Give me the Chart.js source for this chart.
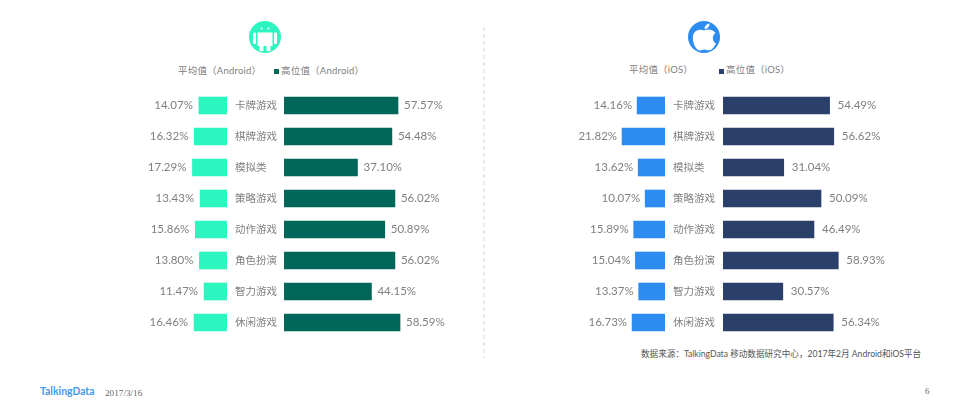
<!DOCTYPE html>
<html>
<head>
<meta charset="utf-8">
<script src="https://cdn.jsdelivr.net/npm/chart.js@4/dist/chart.umd.min.js"></script>
<style>
body { margin: 0; background: #fff; width: 968px; height: 415px; position: relative; overflow: hidden;
  font-family: Lato, "Noto Sans CJK SC", sans-serif; }
canvas { display: block; }
.box { position: absolute; }
.txt { position: absolute; white-space: nowrap; line-height: 12px; }
.legend { font-size: 9.5px; color: #808080; letter-spacing: .2px; }
.swatch { position: absolute; width: 5px; height: 5px; }
</style>
</head>
<body>
<div class="box" style="left:100px;top:90px;width:127px;height:248px"><canvas id="androidAvg"></canvas></div>
<div class="box" style="left:235px;top:90px;width:229px;height:248px"><canvas id="androidTop"></canvas></div>
<div class="box" style="left:540px;top:90px;width:125px;height:248px"><canvas id="iosAvg"></canvas></div>
<div class="box" style="left:673px;top:90px;width:230px;height:248px"><canvas id="iosTop"></canvas></div>

<svg class="box" style="left:249px;top:21px" width="32" height="32" viewBox="0 0 32 32">
  <circle cx="16" cy="16" r="16" fill="#2cf5bf"/>
  <circle cx="12.6" cy="7.4" r="1" fill="#fff"/><circle cx="19.4" cy="7.4" r="1" fill="#fff"/>
  <rect x="8.5" y="11.5" width="15" height="13.5" fill="#fff"/>
  <rect x="4" y="11.5" width="3" height="11.5" rx="1" fill="#fff"/>
  <rect x="25" y="11.5" width="3" height="11.5" rx="1" fill="#fff"/>
  <rect x="10.5" y="24" width="4" height="6" fill="#fff"/>
  <rect x="17.5" y="24" width="4" height="6" fill="#fff"/>
</svg>
<svg class="box" style="left:688px;top:21px" width="32" height="32" viewBox="0 0 32 32">
  <circle cx="16" cy="16" r="16" fill="#2d8cf0"/>
  <path d="M16 9.5 C13 7.8 6.5 8.5 5 14.5 C3.8 20 7.5 29 11.5 29.5 C13.5 29.7 14.5 28.5 16.5 28.5 C18.5 28.5 19.5 29.7 21.5 29.3 C24.5 28.7 27 24.5 28 22.5 C24.5 21 23.5 14.5 27.5 12 C25 8.5 19.5 7.8 16 9.5 Z" fill="#fff"/>
  <path d="M16.5 8 C16.5 5 19 3 21.5 2.6 C21.7 5.5 19.5 8 16.5 8 Z" fill="#fff"/>
</svg>

<div class="txt legend" style="left:178px;top:65px">平均值（Android）</div>
<div class="swatch" style="left:274px;top:69px;background:#00665a"></div>
<div class="txt legend" style="left:281px;top:65px">高位值（Android）</div>
<div class="txt legend" style="left:629px;top:64px">平均值（iOS）</div>
<div class="swatch" style="left:719px;top:69px;background:#2b3f6b"></div>
<div class="txt legend" style="left:726px;top:64px">高位值（iOS）</div>

<svg class="box" style="left:483px;top:27px" width="2" height="331">
  <line x1="1" y1="0" x2="1" y2="331" stroke="#d4d4d4" stroke-width="1" stroke-dasharray="4 3"/>
</svg>

<div class="txt" style="left:641px;top:348px;font-size:8.6px;color:#555">数据来源：TalkingData 移动数据研究中心，2017年2月 Android和iOS平台</div>
<div class="txt" style="left:40px;top:385px;font-size:10.4px;font-weight:700;color:#3d9bf0">TalkingData</div>
<div class="txt" style="left:105px;top:387px;font-size:9.2px;color:#666;font-family:'Liberation Serif',serif">2017/3/16</div>
<div class="txt" style="left:925px;top:385px;font-size:9px;color:#666;font-family:'Liberation Serif',serif">6</div>

<script>
var categories = ["卡牌游戏", "棋牌游戏", "模拟类", "策略游戏", "动作游戏", "角色扮演", "智力游戏", "休闲游戏"];
var androidAvg = [14.07, 16.32, 17.29, 13.43, 15.86, 13.80, 11.47, 16.46];
var androidTop = [57.57, 54.48, 37.10, 56.02, 50.89, 56.02, 44.15, 58.59];
var iosAvg = [14.16, 21.82, 13.62, 10.07, 15.89, 15.04, 13.37, 16.73];
var iosTop = [54.49, 56.62, 31.04, 50.09, 46.49, 58.93, 30.57, 56.34];

var fontFamily = 'Lato, "Noto Sans CJK SC", sans-serif';

// value labels next to the end of every bar
var valueLabels = {
    id: 'valueLabels',
    afterDatasetsDraw: function(chart, args, opts) {
        var ctx = chart.ctx;
        var meta = chart.getDatasetMeta(0);
        ctx.save();
        ctx.font = '11.5px ' + fontFamily;
        ctx.fillStyle = '#808080';
        ctx.textBaseline = 'middle';
        ctx.textAlign = opts.reversed ? 'right' : 'left';
        meta.data.forEach(function(bar, i) {
            var x = bar.x + (opts.reversed ? -opts.gap : opts.gap);
            ctx.fillText(chart.data.datasets[0].data[i].toFixed(2) + '%', x, bar.y);
        });
        ctx.restore();
    }
};

var makeChart = function(id, values, color, reversed, xMax, gutter, gap) {
    var ctx = document.getElementById(id);
    new Chart(ctx, {
        type: 'bar',
        data: {
            labels: categories,
            datasets: [{ data: values, backgroundColor: color, barThickness: 17 }]
        },
        plugins: [valueLabels],
        options: {
            indexAxis: 'y',
            responsive: true,
            maintainAspectRatio: false,
            animation: false,
            layout: { padding: 0 },
            plugins: {
                legend: { display: false },
                tooltip: { enabled: false },
                valueLabels: { reversed: reversed, gap: gap }
            },
            scales: {
                x: { display: false, min: 0, max: xMax, reverse: reversed },
                y: {
                    display: !reversed,
                    grid: { display: false, drawTicks: false },
                    border: { display: false },
                    // fixed gutter for the category names, no extra margin from the labels
                    afterFit: function(axis) {
                        if (reversed) return;
                        axis.width = gutter;
                        axis.paddingTop = 0;
                        axis.paddingBottom = 0;
                    },
                    ticks: {
                        color: '#808080',
                        crossAlign: 'far',
                        font: { size: 10.5, family: fontFamily }
                    }
                }
            }
        }
    });
};

// x ranges set so one unit is about 2px in each panel
makeChart('androidAvg', androidAvg, '#2cf5bf', true, 63.5, 0, 6);
makeChart('androidTop', androidTop, '#00665a', false, 90.9, 49, 6);
makeChart('iosAvg', iosAvg, '#2d8cf0', true, 63.5, 0, 5);
makeChart('iosTop', iosTop, '#2b3f6b', false, 92, 50, 8);
</script>
</body>
</html>
